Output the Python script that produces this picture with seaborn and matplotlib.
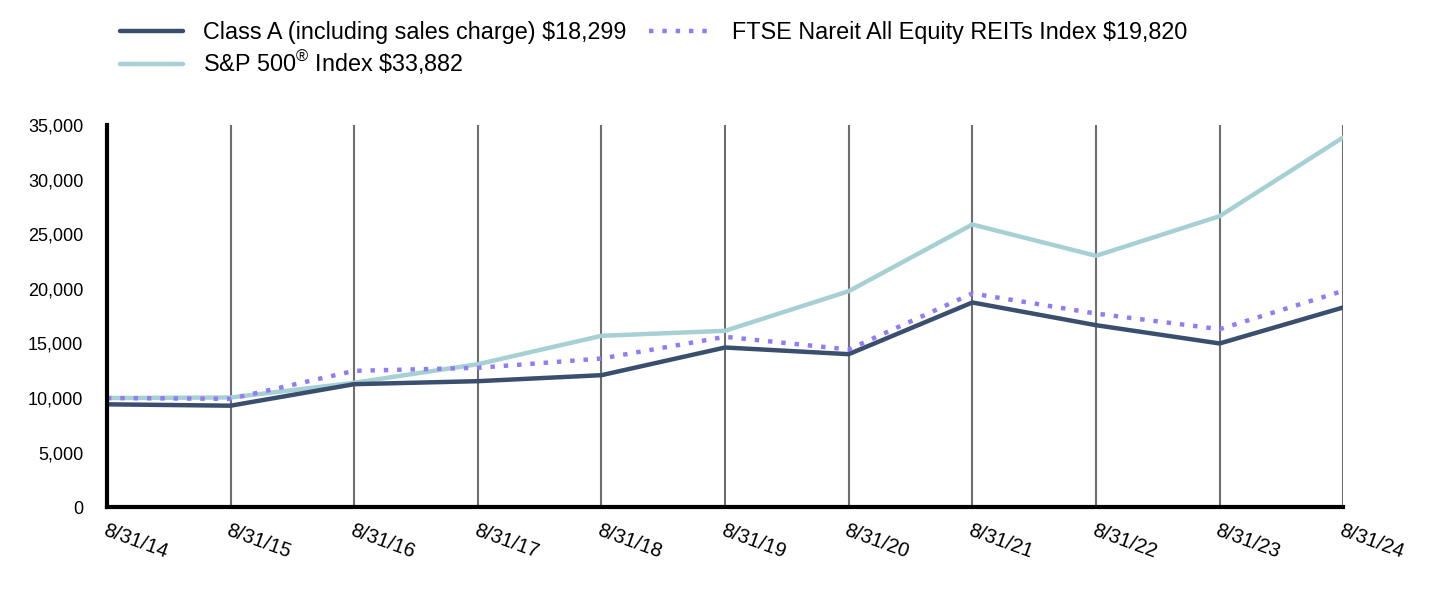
import seaborn as sns
import matplotlib.pyplot as plt
import pandas as pd
from matplotlib.ticker import FuncFormatter

# Datos
dates = ["8/31/14", "8/31/15", "8/31/16", "8/31/17", "8/31/18", "8/31/19",
         "8/31/20", "8/31/21", "8/31/22", "8/31/23", "8/31/24"]
class_a = [9425, 9300, 11270, 11545, 12095, 14630, 14020, 18755, 16675, 15000, 18299]
sp500 = [10000, 10050, 11400, 13100, 15700, 16160, 19790, 25900, 23030, 26660, 33882]
ftse = [10000, 9925, 12490, 12770, 13620, 15610, 14450, 19580, 17740, 16310, 19820]

labels = ["Class A (including sales charge) \\$18,299",
          "S&P 500$^{\u00ae}$ Index \\$33,882",
          "FTSE Nareit All Equity REITs Index \\$19,820"]

df = pd.DataFrame({"x": range(len(dates)), "class_a": class_a, "sp500": sp500, "ftse": ftse})

sns.set_style("white")
plt.rcParams["font.family"] = ["Liberation Sans", "DejaVu Sans"]
plt.rcParams["mathtext.fontset"] = "custom"
plt.rcParams["mathtext.rm"] = "Liberation Sans"
plt.rcParams["mathtext.it"] = "Liberation Sans"
plt.rcParams["text.color"] = "black"
plt.rcParams["xtick.color"] = "black"
plt.rcParams["ytick.color"] = "black"

fig = plt.figure(figsize=(14.32, 5.96), dpi=100)
ax = fig.add_axes([0.0747, 0.149, 0.8633, 0.641])

sns.lineplot(data=df, x="x", y="class_a", ax=ax, color="#3a4e6e", linewidth=3.2,
             label=labels[0], zorder=4)
sns.lineplot(data=df, x="x", y="sp500", ax=ax, color="#a6d0d4", linewidth=3.2,
             label=labels[1], zorder=3)
sns.lineplot(data=df, x="x", y="ftse", ax=ax, color="#8f7cf7", linewidth=3.2,
             linestyle=(0, (1, 2)), label=labels[2], zorder=5)

# columna 1: Class A, S&P; columna 2: FTSE
h, l = ax.get_legend_handles_labels()
ax.legend(h, l, ncol=2, loc="upper left", bbox_to_anchor=(0.0105, 1.272),
          frameon=False, fontsize=16.8, handlelength=2.7, handletextpad=0.85,
          columnspacing=1.0, labelspacing=0.2, borderaxespad=0, borderpad=0)

ax.set_xlim(0, len(dates) - 1)
ax.set_ylim(0, 35000)
ax.set_yticks(range(0, 35001, 5000))
ax.yaxis.set_major_formatter(FuncFormatter(lambda v, p: f"{int(v):,}"))
ax.set_xticks(range(len(dates)))
ax.set_xticklabels(dates, rotation=-20, ha="left", rotation_mode="anchor", fontsize=14.5)
ax.tick_params(axis="y", labelsize=13, length=0, pad=17)
ax.tick_params(axis="x", length=0, pad=10)
ax.set_xlabel("")
ax.set_ylabel("")

ax.grid(axis="x", color="#6e6e6e", linewidth=1.5)
ax.grid(axis="y", visible=False)
for s in ["top", "right"]:
    ax.spines[s].set_visible(False)
for s in ["left", "bottom"]:
    ax.spines[s].set_color("black")
    ax.spines[s].set_linewidth(3)
    ax.spines[s].set_zorder(6)

fig.savefig("out.png", dpi=100)
